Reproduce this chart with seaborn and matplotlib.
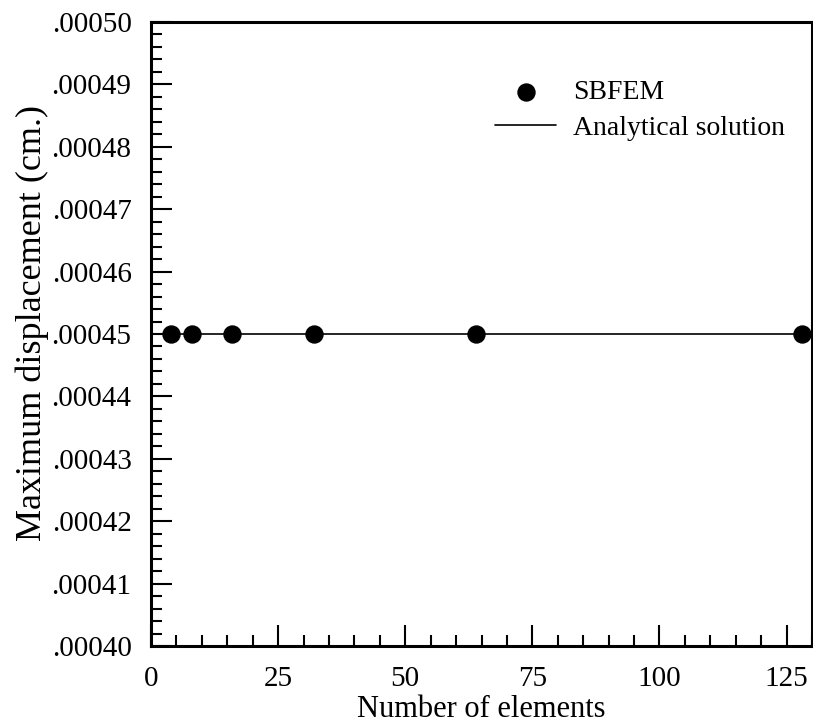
import matplotlib
matplotlib.use("Agg")
import matplotlib.pyplot as plt
import matplotlib.ticker as mticker
import seaborn as sns
import pandas as pd

# Convergence data
elements = [4, 8, 16, 32, 64, 128]
sbfem_disp = [0.00045, 0.00045, 0.00045, 0.00045, 0.00045, 0.00045]
analytical_x = [0, 130]
analytical_disp = [0.00045, 0.00045]

sns.set_theme(style="white")
plt.rcParams["font.family"] = ["Liberation Serif", "DejaVu Serif"]
plt.rcParams["text.color"] = "black"
plt.rcParams["axes.labelcolor"] = "black"

W, H = 813, 723
fig = plt.figure(figsize=(W / 100, H / 100), dpi=100)
ax = fig.add_axes([151 / W, 1 - 646 / H, (812 - 151) / W, (646 - 22) / H])

df_line = pd.DataFrame({"n": analytical_x, "d": analytical_disp})
df_pts = pd.DataFrame({"n": elements, "d": sbfem_disp})

sns.lineplot(data=df_line, x="n", y="d", ax=ax, color="black", linewidth=1.2,
             label="Analytical solution")
sns.scatterplot(data=df_pts, x="n", y="d", ax=ax, color="black", s=150,
                edgecolor="black", zorder=3, label="SBFEM", clip_on=False)

ax.set_xlim(0, 130)
ax.set_ylim(0.00040, 0.00050)

ax.xaxis.set_major_locator(mticker.MultipleLocator(25))
ax.xaxis.set_minor_locator(mticker.MultipleLocator(5))
ax.yaxis.set_major_locator(mticker.MultipleLocator(0.00001))
ax.yaxis.set_minor_locator(mticker.MultipleLocator(0.000002))


def yfmt(v, pos):
    s = f"{v:.5f}"
    return s[1:] if s.startswith("0") else s


ax.yaxis.set_major_formatter(mticker.FuncFormatter(yfmt))

ax.tick_params(which="both", direction="in", left=True, bottom=True,
               top=False, right=False, colors="black", labelsize=21, width=1.5)
ax.tick_params(which="major", length=15)
ax.tick_params(which="minor", length=8)
ax.tick_params(axis="y", which="major", pad=14)
ax.tick_params(axis="x", which="major", pad=14.5)

for sp in ax.spines.values():
    sp.set_color("black")
    sp.set_linewidth(2.2)
    sp.set_visible(True)

ax.set_xlabel("Number of elements", fontsize=22, labelpad=2)
ax.set_ylabel("Maximum displacement (cm.)", fontsize=26, labelpad=2)
ax.yaxis.label.set_y((646 - 323) / 624)

handles, labels = ax.get_legend_handles_labels()
order = [labels.index("SBFEM"), labels.index("Analytical solution")]
ax.legend([handles[i] for i in order], [labels[i] for i in order],
          loc="upper left", bbox_to_anchor=(495 / W, 1 - 80 / H),
          bbox_transform=fig.transFigure, borderpad=0, borderaxespad=0,
          frameon=False, fontsize=20, handlelength=2.2, handletextpad=0.6,
          labelspacing=0.36)

fig.savefig("out.png", dpi=100, facecolor="white")
